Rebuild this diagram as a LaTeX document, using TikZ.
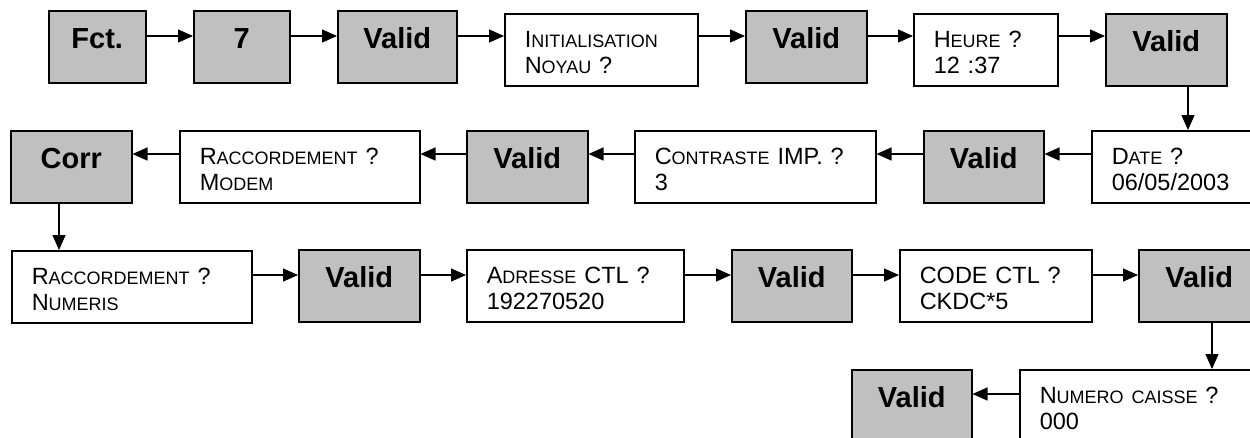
\documentclass[tikz,border=0pt]{standalone}
\usepackage{fontspec}
\setmainfont{Liberation Sans}
\usetikzlibrary{arrows.meta}
\definecolor{keygrey}{RGB}{192,192,192}
\newcommand{\pcap}[1]{{\fontsize{18}{26}\selectfont #1}}

\begin{document}
\begin{tikzpicture}[x=1pt,y=-1pt,
	gbox/.style={draw,line width=1.5pt,fill=keygrey,anchor=north west,inner sep=0pt,minimum width=#1,text height=38pt,text depth=34pt,font=\fontsize{29}{30}\selectfont\bfseries},
	wbox/.style={draw,line width=1.5pt,fill=white,anchor=north west,inner xsep=20pt,inner ysep=0pt,text width=#1,align=left,text height=33.5pt,text depth=38.5pt,font=\fontsize{23.5}{26}\selectfont},
	arr/.style={line width=1.3pt,-{Triangle[length=15pt,width=13pt]}}]
	\useasboundingbox (0,0) rectangle (1250,437);
	\clip (0,0) rectangle (1250,437);
	% rows of arrows and down links
	\coordinate (r1) at (0,36);
	\coordinate (r2) at (0,154);
	\coordinate (r3) at (0,275);
	\coordinate (r4) at (0,394);
	\coordinate (d1) at (1188,0);
	\coordinate (d2) at (59,0);
	\coordinate (d3) at (1212,0);
	% row 1
	\node[gbox=97pt] (fct) at (48,10) {Fct.};
	\node[gbox=96pt] (seven) at (193,10) {7};
	\node[gbox=119pt] (valA) at (337,10) {Valid};
	\node[wbox=153pt] (init) at (504,13) {I\pcap{NITIALISATION}\\N\pcap{OYAU} ?};
	\node[gbox=121pt] (valB) at (745,10) {Valid};
	\node[wbox=104pt] (heure) at (913,13) {H\pcap{EURE} ?\\12 :37};
	\node[gbox=121pt] (valC) at (1105,13) {Valid};
	% row 2
	\node[gbox=121pt] (corr) at (10,130) {Corr};
	\node[wbox=200pt] (modem) at (179,130) {R\pcap{ACCORDEMENT} ?\\M\pcap{ODEM}};
	\node[gbox=121pt] (valD) at (466,130) {Valid};
	\node[wbox=201pt] (contr) at (634,130) {C\pcap{ONTRASTE} IMP. ?\\3};
	\node[gbox=120pt] (valE) at (923,130) {Valid};
	\node[wbox=153pt] (date) at (1091,130) {D\pcap{ATE} ?\\06/05/2003};
	% row 3
	\node[wbox=200pt] (numeris) at (11,250) {R\pcap{ACCORDEMENT} ?\\N\pcap{UMERIS}};
	\node[gbox=121pt] (valF) at (298,249) {Valid};
	\node[wbox=177pt] (adresse) at (466,249) {A\pcap{DRESSE} CTL ?\\192270520};
	\node[gbox=120pt] (valG) at (731,249) {Valid};
	\node[wbox=152pt] (code) at (899,249) {CODE CTL ?\\CKDC*5};
	\node[gbox=121pt] (valH) at (1138,249) {Valid};
	% row 4
	\node[gbox=120pt] (valI) at (851,369) {Valid};
	\node[wbox=201pt] (numero) at (1019,369) {N\pcap{UMERO CAISSE} ?\\000};
	% links
	\draw[arr] (fct.east |- r1) -- (seven.west |- r1);
	\draw[arr] (seven.east |- r1) -- (valA.west |- r1);
	\draw[arr] (valA.east |- r1) -- (init.west |- r1);
	\draw[arr] (init.east |- r1) -- (valB.west |- r1);
	\draw[arr] (valB.east |- r1) -- (heure.west |- r1);
	\draw[arr] (heure.east |- r1) -- (valC.west |- r1);
	\draw[arr] (valC.south -| d1) -- (date.north -| d1);
	\draw[arr] (date.west |- r2) -- (valE.east |- r2);
	\draw[arr] (valE.west |- r2) -- (contr.east |- r2);
	\draw[arr] (contr.west |- r2) -- (valD.east |- r2);
	\draw[arr] (valD.west |- r2) -- (modem.east |- r2);
	\draw[arr] (modem.west |- r2) -- (corr.east |- r2);
	\draw[arr] (corr.south -| d2) -- (numeris.north -| d2);
	\draw[arr] (numeris.east |- r3) -- (valF.west |- r3);
	\draw[arr] (valF.east |- r3) -- (adresse.west |- r3);
	\draw[arr] (adresse.east |- r3) -- (valG.west |- r3);
	\draw[arr] (valG.east |- r3) -- (code.west |- r3);
	\draw[arr] (code.east |- r3) -- (valH.west |- r3);
	\draw[arr] (valH.south -| d3) -- (numero.north -| d3);
	\draw[arr] (numero.west |- r4) -- (valI.east |- r4);
\end{tikzpicture}
\end{document}
